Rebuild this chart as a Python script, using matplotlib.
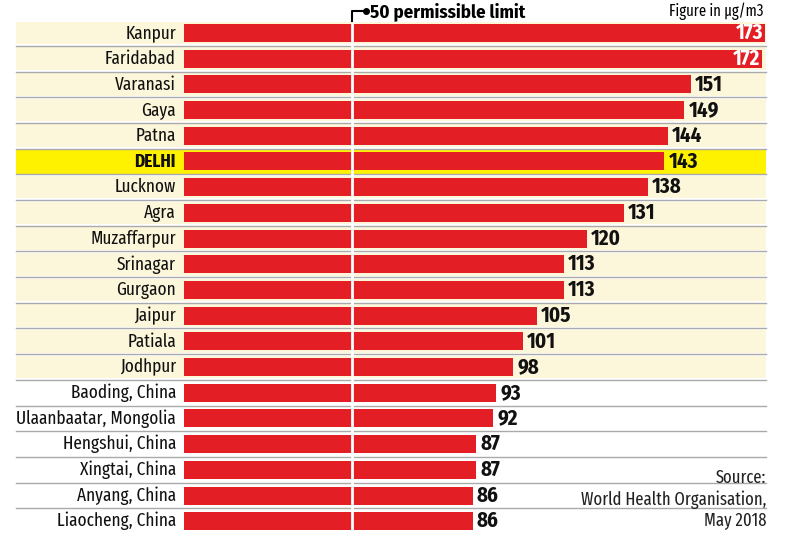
import matplotlib.pyplot as plt
from matplotlib.patches import Rectangle

cities = ["Kanpur", "Faridabad", "Varanasi", "Gaya", "Patna", "DELHI", "Lucknow",
          "Agra", "Muzaffarpur", "Srinagar", "Gurgaon", "Jaipur", "Patiala", "Jodhpur",
          "Baoding, China", "Ulaanbaatar, Mongolia", "Hengshui, China", "Xingtai, China",
          "Anyang, China", "Liaocheng, China"]
pm = [173, 172, 151, 149, 144, 143, 138, 131, 120, 113, 113, 105, 101, 98,
      93, 92, 87, 87, 86, 86]
limit = 50
n_india = 14  # rows with cream background

RED = "#e41e25"
CREAM = "#fcf6da"
YELLOW = "#fff200"
TXT = dict(family=["Fira Sans Extra Condensed", "Fira Sans Condensed", "DejaVu Sans"], stretch="condensed")
NUM = dict(family=["Fira Sans Condensed", "DejaVu Sans"], stretch="condensed")

fig = plt.figure(figsize=(8, 5.5), dpi=100)
ax = fig.add_axes([0, 0, 1, 1])
ax.set_xlim(-54.8, 183.4)
ax.set_ylim(20.12, -1.284)
ax.axis("off")

left, right = -49.9, 173.3
for i, (c, v) in enumerate(zip(cities, pm)):
    if c == "DELHI":
        ax.add_patch(Rectangle((left, i - 0.5), right - left, 1.0, color=YELLOW, lw=0, zorder=0))
    elif i < n_india:
        ax.add_patch(Rectangle((left, i - 0.44), right - left, 0.88, color=CREAM, lw=0, zorder=0))
    if i > 0:
        ax.plot([left, right], [i - 0.5, i - 0.5], color="#aaaaaa", lw=1, zorder=1)
    ax.text(-2.4, i, c, ha="right", va="center", fontsize=13.5, **TXT,
            fontweight="bold" if c == "DELHI" else "normal", color="#111111")
    if v >= 170:
        ax.text(v - 0.5, i, str(v), ha="right", va="center", fontsize=15,
                fontweight="bold", color="white", zorder=4, **NUM)
    else:
        ax.text(v + 1.2, i, str(v), ha="left", va="center", fontsize=15,
                fontweight="bold", color="#111111", zorder=4, **NUM)

ax.barh(range(len(cities)), pm, height=0.7, left=0, color=RED, zorder=2)

# permissible limit marker
ax.plot([limit, limit], [-0.45, len(cities) - 0.5], color="white", lw=2, zorder=3)
ax.plot([limit, limit, limit + 4.2], [-0.45, -0.85, -0.85], color="black", lw=1.5, zorder=3)
ax.plot(limit + 4.2, -0.85, "o", color="black", ms=4, zorder=3)
ax.text(limit + 5.5, -0.85, "50 permissible limit", ha="left", va="center",
        fontsize=13.5, fontweight="bold", **NUM)
ax.text(172.5, -0.85, "Figure in µg/m3", ha="right", va="center", fontsize=11.5, **TXT)

ax.text(173.3, 18.15, "Source:\nWorld Health Organisation,\nMay 2018", ha="right", va="center",
        fontsize=13, linespacing=1.2, color="#222222", **TXT)

fig.savefig("out.png", dpi=100)
